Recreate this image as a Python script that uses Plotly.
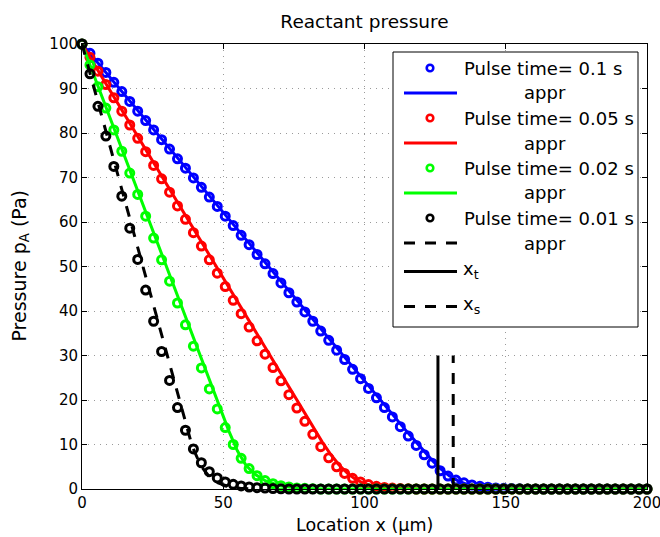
import numpy as np
import plotly.graph_objects as go

# ---------------------------------------------------------------------------
# Data: reactant pressure p_A (Pa) along the film, x in micrometres
# ---------------------------------------------------------------------------
x_um = np.linspace(0, 200, 72)  # simulation grid (72 nodes)

# simulated profiles (markers)
p_t01 = [100.0, 97.9, 95.7, 93.6, 91.4, 89.3, 87.1, 84.9, 82.8, 80.7,
         78.5, 76.4, 74.2, 72.1, 69.9, 67.8, 65.6, 63.5, 61.3, 59.2,
         57.0, 54.9, 52.7, 50.6, 48.4, 46.3, 44.1, 42.0, 39.8, 37.7,
         35.5, 33.4, 31.2, 29.1, 26.9, 24.8, 22.6, 20.5, 18.3, 16.2,
         14.0, 11.9, 9.8, 7.7, 5.8, 4.1, 2.9, 2.0, 1.4, 0.9,
         0.6, 0.4, 0.25, 0.15, 0.1, 0.05, 0, 0, 0, 0,
         0, 0, 0, 0, 0, 0, 0, 0, 0, 0,
         0, 0]
p_t005 = [100.0, 97.0, 93.9, 90.9, 87.9, 84.9, 81.8, 78.8, 75.8, 72.7,
          69.7, 66.7, 63.6, 60.6, 57.6, 54.6, 51.5, 48.5, 45.5, 42.4,
          39.4, 36.4, 33.3, 30.3, 27.3, 24.3, 21.2, 18.2, 15.2, 12.3,
          9.5, 7.0, 5.0, 3.5, 2.4, 1.6, 1.0, 0.6, 0.35, 0.2,
          0.1, 0.05, 0, 0, 0, 0, 0, 0, 0, 0,
          0, 0, 0, 0, 0, 0, 0, 0, 0, 0,
          0, 0, 0, 0, 0, 0, 0, 0, 0, 0,
          0, 0]
p_t002 = [100.0, 95.3, 90.4, 85.6, 80.7, 75.9, 71.0, 66.2, 61.3, 56.4,
          51.5, 46.7, 41.8, 36.9, 32.1, 27.2, 22.5, 18.0, 13.8, 10.0,
          6.9, 4.6, 3.0, 1.9, 1.2, 0.75, 0.45, 0.25, 0.15, 0.08,
          0, 0, 0, 0, 0, 0, 0, 0, 0, 0,
          0, 0, 0, 0, 0, 0, 0, 0, 0, 0,
          0, 0, 0, 0, 0, 0, 0, 0, 0, 0,
          0, 0, 0, 0, 0, 0, 0, 0, 0, 0,
          0, 0]
p_t001 = [100.0, 93.3, 86.0, 79.3, 72.5, 65.8, 58.6, 51.6, 44.7, 37.7,
          30.9, 24.4, 18.3, 13.2, 9.0, 5.9, 3.9, 2.5, 1.6, 1.05,
          0.7, 0.45, 0.3, 0.2, 0.1, 0.05, 0, 0, 0, 0,
          0, 0, 0, 0, 0, 0, 0, 0, 0, 0,
          0, 0, 0, 0, 0, 0, 0, 0, 0, 0,
          0, 0, 0, 0, 0, 0, 0, 0, 0, 0,
          0, 0, 0, 0, 0, 0, 0, 0, 0, 0,
          0, 0]

# approximate (analytical) profiles
appr_t01_x = [0, 20, 40, 60, 80, 100, 115, 120, 124, 127, 130, 133, 136, 140, 145, 150, 155, 200]
appr_t01_y = [100, 84.9, 69.7, 54.6, 39.4, 24.3, 12.9, 9.2, 6.4, 4.5, 3.0, 1.9, 1.1, 0.5, 0.15, 0.04, 0, 0]
appr_t005_x = [0, 20, 40, 60, 80, 85, 88, 91, 94, 97, 100, 104, 108, 113, 120, 200]
appr_t005_y = [100, 78.9, 57.8, 36.7, 15.6, 10.6, 7.8, 5.4, 3.5, 2.1, 1.2, 0.5, 0.2, 0.05, 0, 0]
appr_t002_x = [0, 10, 20, 30, 40, 48, 52, 55, 58, 61, 65, 70, 75, 80, 85, 200]
appr_t002_y = [100, 83.2, 66.4, 49.6, 32.8, 19.4, 13.0, 8.6, 5.4, 3.4, 1.8, 0.75, 0.3, 0.1, 0, 0]
appr_t001_x = [0, 10, 20, 30, 36, 39, 42, 45, 48, 52, 56, 62]
appr_t001_y = [100, 76.7, 53.4, 30.1, 16.1, 9.6, 5.3, 2.8, 1.4, 0.5, 0.15, 0]

# front positions of the 0.1 s pulse
x_t = 126.0
x_s = 131.4
front_marker_height = [0, 30]

pulse_labels = ["Pulse time= 0.1 s", "Pulse time= 0.05 s",
                "Pulse time= 0.02 s", "Pulse time= 0.01 s"]

# ---------------------------------------------------------------------------
# Figure geometry and styling
# ---------------------------------------------------------------------------
W, H = 660, 537
ML, MR, MT, MB = 82, 13, 44, 48
PW, PH = W - ML - MR, H - MT - MB
FONT = "DejaVu Sans"
DASH = "11px,10px"


def px(xp):
    """pixel column -> paper x"""
    return (xp - ML) / PW


def py(yp):
    """pixel row -> paper y"""
    return (H - MB - yp) / PH


series = [
    (pulse_labels[0], "#0000ff", p_t01, appr_t01_x, appr_t01_y, "solid"),
    (pulse_labels[1], "#ff0000", p_t005, appr_t005_x, appr_t005_y, "solid"),
    (pulse_labels[2], "#00ff00", p_t002, appr_t002_x, appr_t002_y, "solid"),
    (pulse_labels[3], "#000000", p_t001, appr_t001_x, appr_t001_y, DASH),
]

fig = go.Figure()
for name, color, p, lx, ly, dash in series:
    fig.add_trace(go.Scatter(
        x=x_um, y=p, mode="markers", name=name, showlegend=False,
        cliponaxis=False,
        marker=dict(symbol="circle-open", size=8, color=color,
                    line=dict(width=3, color=color)),
    ))
    fig.add_trace(go.Scatter(
        x=lx, y=ly, mode="lines", name="appr", showlegend=False,
        line=dict(color=color, width=3, dash=dash),
    ))

fig.add_trace(go.Scatter(x=[x_t, x_t], y=front_marker_height, mode="lines",
                         name="x_t", showlegend=False,
                         line=dict(color="black", width=3)))
fig.add_trace(go.Scatter(x=[x_s, x_s], y=front_marker_height, mode="lines",
                         name="x_s", showlegend=False,
                         line=dict(color="black", width=3, dash=DASH)))

# ---------------------------------------------------------------------------
# Legend box (drawn with shapes + annotations)
# ---------------------------------------------------------------------------
legend_rows = [
    ("marker", "#0000ff", None, pulse_labels[0], 68),
    ("line", "#0000ff", "solid", "appr", 93),
    ("marker", "#ff0000", None, pulse_labels[1], 118),
    ("line", "#ff0000", "solid", "appr", 143),
    ("marker", "#00ff00", None, pulse_labels[2], 168),
    ("line", "#00ff00", "solid", "appr", 193),
    ("marker", "#000000", None, pulse_labels[3], 218),
    ("line", "#000000", DASH, "appr", 243),
    ("line", "#000000", "solid", "x<sub>t</sub>", 271.5),
    ("line", "#000000", DASH, "x<sub>s</sub>", 306.5),
]

shapes = [dict(type="rect", xref="paper", yref="paper",
               x0=px(393), x1=px(638), y0=py(327), y1=py(52),
               line=dict(color="black", width=1), fillcolor="white",
               layer="above")]
annotations = []
for kind, color, dash, label, yc in legend_rows:
    if kind == "marker":
        shapes.append(dict(type="circle", xref="paper", yref="paper",
                           xsizemode="pixel", ysizemode="pixel",
                           xanchor=px(430), yanchor=py(yc),
                           x0=-3.3, x1=3.3, y0=-3.3, y1=3.3,
                           line=dict(color=color, width=2.6),
                           fillcolor="rgba(0,0,0,0)", layer="above"))
    else:
        shapes.append(dict(type="line", xref="paper", yref="paper",
                           x0=px(404), x1=px(457), y0=py(yc), y1=py(yc),
                           line=dict(color=color, width=3, dash=dash),
                           layer="above"))
    if label == "appr":
        ax_, anchor, ty = px(545), "center", yc
    elif label.startswith("x<sub>"):
        ax_, anchor, ty = px(461), "left", yc - 2
    else:
        ax_, anchor, ty = px(462), "left", yc
    annotations.append(dict(text=label, xref="paper", yref="paper",
                            x=ax_, y=py(ty), xanchor=anchor, yanchor="middle",
                            showarrow=False,
                            font=dict(family=FONT, size=18, color="black")))

# axis titles
annotations.append(dict(text="Location x (µm)", xref="paper", yref="paper",
                        x=0.5, y=py(525), xanchor="center", yanchor="middle",
                        showarrow=False,
                        font=dict(family=FONT, size=17.5, color="black")))
annotations.append(dict(text="Pressure p<sub>A</sub> (Pa)", xref="paper",
                        yref="paper", x=px(20), y=0.5, textangle=-90,
                        xanchor="center", yanchor="middle", showarrow=False,
                        font=dict(family=FONT, size=19, color="black")))

axis_common = dict(
    showline=True, linecolor="black", linewidth=1, mirror="ticks",
    ticks="inside", ticklen=5, tickwidth=1, tickcolor="black",
    showgrid=True, gridcolor="#9a9a9a", gridwidth=1, griddash="1px,5px",
    zeroline=False, ticklabeloverflow="allow",
    tickfont=dict(family=FONT, size=15, color="black"),
)

fig.update_layout(
    width=W, height=H,
    margin=dict(l=ML, r=MR, t=MT, b=MB, autoexpand=False),
    paper_bgcolor="white", plot_bgcolor="white",
    font=dict(family=FONT, color="black"),
    title=dict(text="Reactant pressure", x=0.5, xref="paper", xanchor="center",
               y=1 - 22 / H, yref="container", yanchor="middle",
               font=dict(family=FONT, size=18.5, color="black")),
    xaxis=dict(range=[0, 200], tickvals=[0, 50, 100, 150, 200], **axis_common),
    yaxis=dict(range=[0, 100], tickvals=list(range(0, 101, 10)), **axis_common),
    shapes=shapes,
    annotations=annotations,
    showlegend=False,
)

fig.write_html("out.html")
